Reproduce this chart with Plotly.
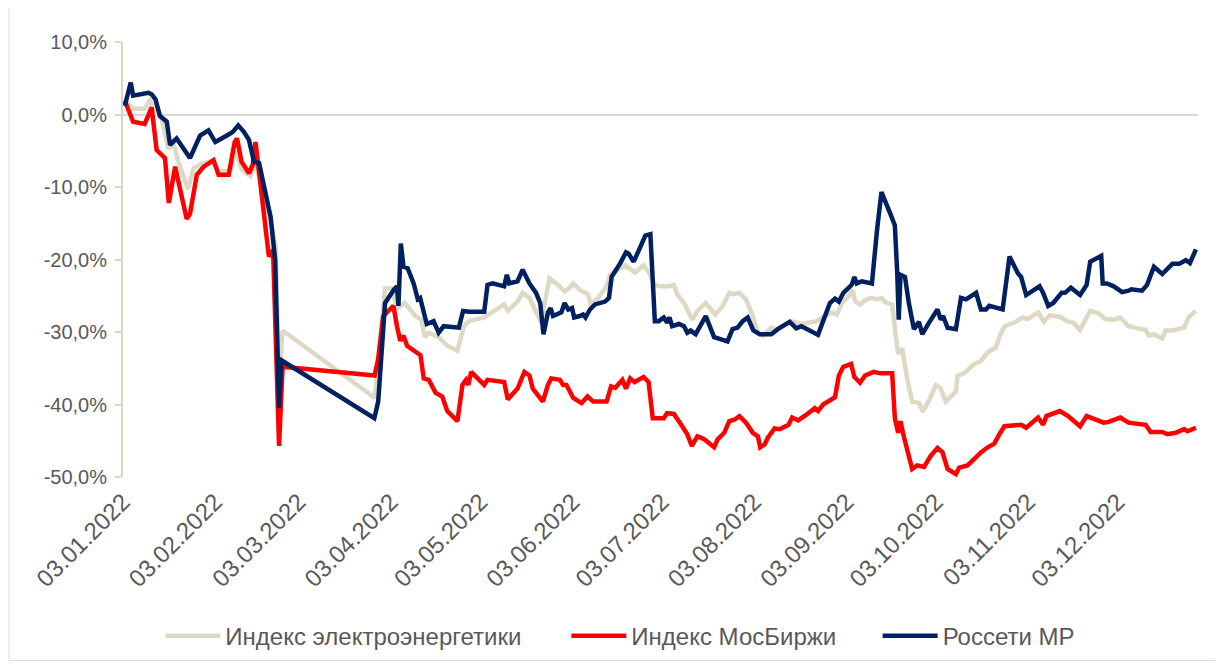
import pandas as pd
import plotly.graph_objects as go

# x values are days since 03.01.2022
START = pd.Timestamp("2022-01-03")

elec_day = [0.6, 3.4, 7.3, 9.0, 11.3, 13.0, 15.2, 16.9, 18.6, 21.8, 23.7, 25.9, 29.9, 32.1, 36.0, 37.8, 40.0,
            42.8, 44.5, 46.8, 50.2, 51.3, 52.4, 53.6, 84.6, 86.3, 88.0, 90.3, 92.0, 94.6, 98.2, 100.2, 101.4,
            102.7, 106.0, 108.9, 112.3, 114.5, 116.2, 121.3, 124.1, 128.0, 129.2, 132.5, 134.2, 136.5, 140.4,
            143.2, 146.1, 148.3, 149.7, 151.2, 153.4, 156.2, 157.1, 159.6, 162.4, 163.6, 166.4, 168.6, 172.0,
            174.8, 176.5, 178.6, 180.5, 183.3, 185.0, 186.1, 188.4, 190.1, 191.2, 192.9, 195.7, 198.9, 201.4,
            203.6, 204.7, 207.0, 209.2, 211.5, 213.2, 214.9, 217.7, 219.3, 224.4, 227.8, 231.2, 232.9, 235.7,
            238.0, 239.7, 241.4, 243.6, 245.0, 245.9, 247.6, 249.2, 251.5, 253.2, 254.7, 256.0, 258.3, 259.4,
            260.3, 261.7, 263.3, 265.0, 267.3, 268.6, 270.7, 273.0, 274.6, 276.3, 279.7, 280.3, 282.5, 285.3,
            288.1, 290.4, 293.2, 294.3, 296.0, 299.4, 302.2, 303.9, 307.3, 309.3, 311.2, 314.6, 317.4, 319.1,
            321.4, 324.8, 327.6, 329.8, 332.7, 334.9, 337.7, 340.6, 343.4, 344.5, 346.2, 349.0, 350.1, 352.4,
            356.3, 358.0, 360.3]
elec_val = [1.9, 0.8, 0.8, 1.9, 0.5, -0.6, -4.7, -4.0, -6.5, -10.3, -7.4, -6.9, -6.3, -7.8, -7.8, -5.1, -7.6,
            -8.5, -6.7, -10.1, -16.0, -18.3, -37.0, -29.8, -39.1, -31.9, -24.0, -24.0, -26.7, -26.0, -27.8, -28.3, -30.7,
            -30.1, -30.7, -31.9, -32.6, -29.2, -28.5, -28.0, -27.3, -26.2, -27.1, -25.8, -24.6, -25.3, -28.7,
            -22.6, -23.5, -24.4, -24.0, -23.3, -24.2, -24.8, -26.2, -25.3, -23.7, -22.1, -21.4, -20.8, -21.8,
            -20.8, -21.7, -23.5, -23.7, -23.7, -23.5, -24.8, -26.0, -27.3, -28.3, -27.1, -26.0, -27.6, -26.4,
            -24.6, -24.8, -24.6, -25.5, -27.8, -30.1, -30.5, -29.4, -29.7, -28.5, -28.9, -28.7, -28.5, -27.8,
            -27.3, -27.6, -26.0, -25.1, -24.2, -25.8, -26.2, -25.6, -25.3, -25.5, -25.3, -25.9, -26.2, -30.1,
            -33.0, -32.3, -36.4, -39.6, -39.8, -41.0, -39.4, -37.3, -37.8, -39.6, -38.2, -36.0, -35.7, -34.6,
            -34.0, -32.8, -32.1, -30.7, -29.2, -28.7, -28.0, -28.2, -27.3, -28.6, -27.7, -27.9, -28.6, -28.7,
            -29.7, -27.1, -27.4, -28.2, -28.3, -28.0, -29.2, -29.5, -29.7, -30.5, -30.3, -30.9, -29.8, -29.8,
            -29.4, -27.9, -27.1]

moex_day = [0.6, 3.4, 7.3, 9.6, 11.3, 14.1, 15.4, 17.5, 21.4, 22.5, 24.8, 27.1, 30.4, 32.1, 35.5, 37.5, 38.3,
            39.8, 42.3, 43.6, 44.5, 46.8, 49.0, 50.4, 52.4, 53.6, 84.5, 85.7, 87.4, 89.1, 90.8, 92.0, 93.1, 94.2,
            95.4, 99.9, 101.0, 102.7, 105.0, 107.2, 108.9, 112.3, 114.0, 115.2, 116.0, 116.9, 121.3, 122.4, 128.0,
            129.2, 132.5, 134.8, 136.5, 137.6, 141.0, 142.7, 143.8, 146.7, 147.8, 148.9, 151.2, 154.0, 156.0,
            157.9, 162.4, 163.9, 165.3, 167.7, 168.9, 170.3, 171.8, 174.8, 176.5, 177.9, 181.6, 182.7, 185.0,
            187.8, 189.5, 191.0, 192.9, 195.2, 196.8, 198.5, 199.7, 201.9, 203.6, 205.3, 207.0, 209.2, 211.5,
            213.2, 214.0, 215.5, 216.5, 218.8, 220.5, 223.5, 224.7, 226.7, 229.5, 232.3, 233.4, 235.1, 239.1,
            240.4, 241.9, 244.5, 245.6, 247.5, 249.2, 252.1, 254.3, 258.3, 259.2, 260.3, 261.1, 261.9, 265.0,
            266.7, 269.0, 271.2, 273.5, 275.2, 276.9, 279.7, 280.8, 283.6, 285.9, 288.1, 290.4, 292.6, 294.3,
            296.0, 301.6, 303.3, 307.3, 309.0, 310.1, 314.6, 317.4, 321.4, 323.6, 326.5, 329.3, 331.0, 334.9,
            337.7, 343.4, 345.1, 349.0, 350.7, 353.5, 356.3, 357.5, 360.3]
moex_val = [1.9, -1.0, -1.3, 1.0, -4.9, -6.0, -12.2, -7.2, -14.4, -13.7, -8.3, -7.2, -6.3, -8.3, -8.3, -3.8, -3.3,
            -6.5, -8.1, -6.9, -3.8, -12.4, -19.6, -18.7, -45.7, -34.8, -36.0, -33.7, -27.8, -27.1, -26.4, -29.2, -31.2, -30.5,
            -31.9, -33.2, -36.4, -36.6, -38.4, -38.9, -40.9, -42.3, -37.3, -36.6, -37.3, -35.5, -37.3, -36.6, -36.9,
            -39.3, -37.8, -35.5, -36.0, -37.8, -39.6, -37.3, -36.4, -36.6, -37.3, -37.3, -39.1, -39.8, -38.9,
            -39.6, -39.6, -37.5, -37.7, -36.6, -37.8, -36.4, -36.9, -36.2, -36.9, -41.9, -41.9, -41.2, -41.3,
            -43.0, -44.1, -45.7, -44.4, -44.8, -45.3, -45.9, -44.8, -43.9, -42.3, -42.1, -41.6, -42.5, -43.9,
            -44.4, -45.9, -45.5, -44.6, -43.3, -43.4, -42.8, -41.8, -42.2, -41.4, -40.5, -40.9, -40.0, -39.0,
            -36.0, -34.8, -34.4, -36.2, -37.0, -36.0, -35.5, -35.7, -35.7, -41.9, -43.9, -42.3, -43.9, -48.9,
            -48.4, -48.6, -47.1, -46.0, -46.6, -48.9, -49.6, -48.7, -48.4, -47.5, -46.6, -45.9, -45.4, -44.1,
            -43.0, -42.8, -43.2, -41.8, -42.8, -41.6, -40.9, -41.6, -43.0, -41.6, -42.1, -42.5, -42.4, -41.8,
            -42.5, -42.8, -43.8, -43.8, -44.1, -43.9, -43.4, -43.7, -43.2]

mr_day = [0.6, 2.6, 3.4, 8.5, 9.6, 10.9, 12.4, 14.7, 15.8, 18.0, 22.5, 25.9, 28.7, 31.0, 34.9, 36.9, 38.7, 40.6,
          42.3, 44.0, 45.7, 49.6, 51.1, 52.4, 53.2, 84.4, 85.7, 88.0, 90.9, 92.0, 92.5, 93.3, 94.2, 95.6, 97.6,
          99.0, 99.8, 102.0, 104.3, 106.0, 107.7, 112.8, 114.2, 116.2, 121.3, 122.4, 124.1, 128.0, 128.9, 129.7,
          132.5, 134.2, 136.5, 138.7, 140.1, 141.2, 142.7, 143.6, 144.4, 147.2, 148.3, 149.5, 150.8, 151.5,
          153.4, 154.5, 155.3, 156.8, 158.5, 161.9, 163.2, 164.1, 167.0, 168.9, 169.8, 171.5, 173.7, 175.4,
          177.1, 178.6, 179.9, 181.6, 182.7, 183.5, 184.4, 186.7, 188.4, 189.5, 190.6, 192.3, 195.7, 198.5,
          201.4, 203.0, 204.7, 206.4, 208.1, 209.8, 211.7, 213.8, 215.5, 217.7, 219.9, 223.9, 226.1, 227.8,
          230.6, 233.4, 235.1, 237.4, 239.1, 240.4, 241.9, 243.6, 244.7, 245.6, 246.4, 248.1, 251.5, 253.2,
          254.7, 257.7, 259.2, 260.0, 260.5, 261.1, 262.6, 263.9, 265.6, 267.3, 268.4, 270.7, 273.5, 274.6,
          275.4, 276.9, 279.7, 281.4, 283.1, 286.5, 288.1, 289.8, 290.9, 295.4, 297.7, 300.5, 301.6, 303.3,
          305.0, 307.8, 309.0, 310.7, 312.4, 315.2, 316.3, 318.3, 321.4, 323.6, 324.8, 327.0, 328.5, 329.0,
          330.4, 332.7, 335.5, 337.7, 338.6, 342.2, 343.9, 346.2, 349.0, 352.4, 354.7, 356.9, 358.3, 360.3]
mr_val = [1.2, 4.4, 2.6, 3.0, 2.8, 2.1, -0.2, -1.0, -4.2, -3.3, -6.0, -2.9, -2.2, -3.8, -2.9, -2.4, -1.5, -2.4,
          -3.5, -6.5, -6.7, -14.2, -20.1, -40.5, -33.9, -41.9, -39.6, -26.0, -24.2, -23.7, -26.4, -17.8, -21.0, -21.2, -23.3,
          -25.5, -25.3, -28.9, -28.5, -30.1, -29.2, -29.4, -27.1, -27.2, -27.2, -23.5, -23.3, -23.7, -22.1, -23.3,
          -23.0, -21.4, -23.3, -24.6, -26.0, -30.3, -27.3, -26.7, -27.8, -27.3, -26.0, -26.9, -26.7, -28.0,
          -27.8, -27.6, -28.0, -26.9, -26.2, -25.8, -25.3, -22.4, -20.5, -19.0, -19.2, -20.3, -18.3, -16.7,
          -16.5, -28.5, -28.5, -28.0, -28.7, -28.0, -29.2, -28.9, -29.2, -30.1, -29.8, -30.3, -27.8, -30.7,
          -31.1, -31.3, -29.6, -29.4, -28.5, -28.0, -29.8, -30.3, -30.3, -30.3, -29.6, -28.6, -29.5, -29.2,
          -29.8, -30.4, -28.5, -26.0, -25.4, -25.8, -24.6, -24.0, -23.5, -22.4, -23.3, -23.0, -23.3, -16.0,
          -10.7, -13.7, -15.3, -21.9, -28.3, -22.1, -22.4, -26.0, -29.6, -28.6, -30.3, -28.7, -26.9, -28.3,
          -27.8, -29.4, -29.6, -25.3, -25.5, -24.6, -26.9, -26.9, -26.4, -26.9, -19.6, -21.9, -22.4, -24.9,
          -24.4, -23.7, -24.6, -26.4, -26.0, -24.6, -24.6, -23.9, -24.9, -23.5, -20.3, -19.9, -19.5, -23.3,
          -23.3, -23.7, -24.5, -24.3, -24.1, -24.3, -23.5, -21.0, -22.0, -20.6, -20.6, -20.1, -20.5, -18.6]

series_names = ["Индекс электроэнергетики", "Индекс МосБиржи", "Россети МР"]
series_colors = ["#DDD9C4", "#FF0000", "#002060"]

tick_dates = ["2022-01-03", "2022-02-03", "2022-03-03", "2022-04-03", "2022-05-03", "2022-06-03",
              "2022-07-03", "2022-08-03", "2022-09-03", "2022-10-03", "2022-11-03", "2022-12-03"]
tick_text = ["03.01.2022", "03.02.2022", "03.03.2022", "03.04.2022", "03.05.2022", "03.06.2022",
             "03.07.2022", "03.08.2022", "03.09.2022", "03.10.2022", "03.11.2022", "03.12.2022"]
y_ticks = [-50, -40, -30, -20, -10, 0, 10]
y_text = ["-50,0%", "-40,0%", "-30,0%", "-20,0%", "-10,0%", "0,0%", "10,0%"]
x_range = ["2022-01-03", "2022-12-30"]


def to_dates(days):
    return START + pd.to_timedelta(days, unit="D")


FONT = "Liberation Sans, Arial, sans-serif"
TXT = "#595959"

legend_ids = ["legend", "legend2", "legend3"]
legend_x = [0.0347, 0.4124, 0.702]

fig = go.Figure()
for name, color, d, v, lg in zip(series_names, series_colors,
                                 [elec_day, moex_day, mr_day], [elec_val, moex_val, mr_val], legend_ids):
    fig.add_trace(go.Scatter(x=to_dates(d), y=v, mode="lines", name=name, legend=lg,
                             line=dict(color=color, width=4.5)))

legend_style = dict(orientation="h", xanchor="left", y=-0.366, yanchor="middle",
                    font=dict(size=24, color=TXT, family=FONT), itemwidth=55,
                    bgcolor="rgba(0,0,0,0)")

# the page body adds an 8px offset, so the figure is 8px smaller and margins 8px tighter
fig.update_layout(
    width=1215, height=663,
    margin=dict(l=115, r=25, t=34, b=180),
    paper_bgcolor="white", plot_bgcolor="white",
    font=dict(family=FONT, size=22, color=TXT),
    showlegend=True,
    legend=dict(x=legend_x[0], **legend_style),
    legend2=dict(x=legend_x[1], **legend_style),
    legend3=dict(x=legend_x[2], **legend_style),
    xaxis=dict(type="date", range=x_range, tickvals=tick_dates, ticktext=tick_text,
               tickangle=-45, ticks="", showline=False, showgrid=False, zeroline=False,
               automargin=False, ticklabelstandoff=5, tickfont=dict(size=24, color=TXT)),
    xaxis2=dict(type="date", range=x_range, overlaying="x", anchor="free", position=50 / 60,
                tickvals=tick_dates, ticks="inside", ticklen=7, tickwidth=2, tickcolor="#D9D9D9",
                showticklabels=False, showline=False, showgrid=False, zeroline=False, automargin=False),
    yaxis=dict(range=[-50, 10], tickvals=y_ticks, ticktext=y_text, showgrid=False, automargin=False,
               showline=True, linecolor="#D9D6C3", linewidth=2, ticks="outside", ticklen=6,
               tickwidth=2, tickcolor="#D9D6C3", zeroline=True, zerolinecolor="#D9D9D9",
               zerolinewidth=2, tickfont=dict(size=20, color=TXT), ticklabelstandoff=4),
    shapes=[dict(type="rect", xref="paper", yref="paper", x0=-0.106, x1=1.0244, y0=-0.4218, y1=1.2,
                 line=dict(color="#D9D9D9", width=1), fillcolor="rgba(0,0,0,0)", layer="below")],
)

fig.write_html("out.html")
